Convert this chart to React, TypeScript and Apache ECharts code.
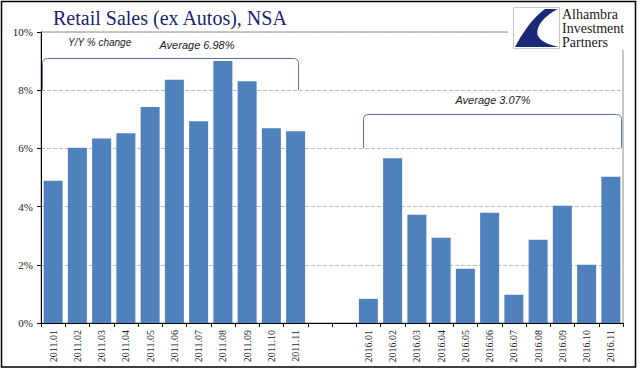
import React, { useEffect, useRef } from "react";
import * as echarts from "echarts";

const categories2011 = ["2011.01", "2011.02", "2011.03", "2011.04", "2011.05", "2011.06", "2011.07", "2011.08", "2011.09", "2011.10", "2011.11"];
const gapCategories = ["", ""];
const categories2016 = ["2016.01", "2016.02", "2016.03", "2016.04", "2016.05", "2016.06", "2016.07", "2016.08", "2016.09", "2016.10", "2016.11"];
const values2011 = [4.89, 6.02, 6.34, 6.52, 7.42, 8.36, 6.93, 9.0, 8.31, 6.69, 6.59];
const values2016 = [0.83, 5.66, 3.72, 2.93, 1.86, 3.79, 0.97, 2.86, 4.03, 2.0, 5.03];
const yMin = 0;
const yMax = 10;
const yInterval = 2;
const titleText = "Retail Sales (ex Autos), NSA";
const subtitleText = "Y/Y % change";
const averageLabels = ["Average 6.98%", "Average 3.07%"];
// bracket spans in category units (fractional index) and value levels
const bracketStart = [-0.46, 12.78];
const bracketEnd = [10.1, 23.42];
const bracketBase = [8, 6];
const bracketTop = [9.1, 7.17];
const logoLines = ["Alhambra", "Investment", "Partners"];

const Bracket = echarts.graphic.extendShape({
  shape: { x1: 0, x2: 0, yTop: 0, yBot: 0, r: 5 },
  buildPath(ctx: any, s: any) {
    ctx.moveTo(s.x1, s.yBot);
    ctx.lineTo(s.x1, s.yTop + s.r);
    ctx.quadraticCurveTo(s.x1, s.yTop, s.x1 + s.r, s.yTop);
    ctx.lineTo(s.x2 - s.r, s.yTop);
    ctx.quadraticCurveTo(s.x2, s.yTop, s.x2, s.yTop + s.r);
    ctx.lineTo(s.x2, s.yBot);
  },
});
echarts.graphic.registerShape("bracket", Bracket);
echarts.graphic.registerShape(
  "logo",
  echarts.graphic.extendPath(
    "M 32 2 L 45 2 C 31 9 22 20 25 29 C 28 35 37 38 46 40 L 2 40 C 9 27 19 11 32 2 Z",
    {}
  )
);

export default function App() {
  const ref = useRef<HTMLDivElement>(null);
  useEffect(() => {
    if (!ref.current) return;
    const chart = echarts.init(ref.current, null, { renderer: "svg" });
    const categories = [...categories2011, ...gapCategories, ...categories2016];
    const data = [...values2011, ...gapCategories.map(() => null), ...values2016];
    chart.setOption({
      animation: false,
      grid: {
        left: 41,
        right: 18,
        top: 32,
        bottom: 52,
        show: true,
        borderColor: "#8c8c8c",
        borderWidth: 1,
      },
      xAxis: {
        type: "category",
        data: categories,
        boundaryGap: true,
        axisLine: { lineStyle: { color: "#000", width: 1 } },
        axisTick: { show: true, interval: 0, length: 4, lineStyle: { color: "#000" } },
        axisLabel: {
          interval: 0,
          rotate: 90,
          fontFamily: "Liberation Serif",
          fontSize: 10,
          color: "#222",
          margin: 7,
        },
      },
      yAxis: {
        type: "value",
        min: yMin,
        max: yMax,
        interval: yInterval,
        axisLine: { show: true, lineStyle: { color: "#000" } },
        axisTick: { show: true, length: 4, lineStyle: { color: "#000" } },
        axisLabel: {
          formatter: "{value}%",
          fontFamily: "Liberation Serif",
          fontSize: 11,
          color: "#222",
          margin: 8,
        },
        splitLine: { lineStyle: { color: "#bdbdbd", type: "dashed", width: 1 } },
      },
      series: [
        {
          type: "bar",
          data,
          barWidth: 19,
          itemStyle: { color: "#4F81BD" },
          silent: true,
        },
      ],
    });

    const px0 = chart.convertToPixel({ xAxisIndex: 0 }, 0) as number;
    const px1 = chart.convertToPixel({ xAxisIndex: 0 }, 1) as number;
    const band = px1 - px0;
    const xAt = (f: number) => px0 + f * band;
    const yAt = (v: number) => chart.convertToPixel({ yAxisIndex: 0 }, v) as number;

    const brackets = bracketStart.map((s, i) => ({
      type: "bracket",
      shape: {
        x1: Math.round(xAt(s)) + 0.5,
        x2: Math.round(xAt(bracketEnd[i])) + 0.5,
        yTop: Math.round(yAt(bracketTop[i])) + 0.5,
        yBot: Math.round(yAt(bracketBase[i])),
        r: 5,
      },
      style: { fill: "none", stroke: "#5473a0", lineWidth: 1 },
      z: 10,
    }));

    chart.setOption({
      graphic: [
        {
          type: "rect",
          shape: { x: 1.5, y: 1.5, width: 634, height: 365.5 },
          style: { fill: "none", stroke: "#000", lineWidth: 1.5 },
          z: 20,
        },
        {
          type: "text",
          x: 53,
          y: 18,
          style: {
            text: titleText,
            font: "20px 'Liberation Serif'",
            fill: "#1c1f6e",
            textAlign: "left",
            textVerticalAlign: "middle",
          },
          z: 20,
        },
        {
          type: "text",
          x: 68,
          y: 42,
          style: {
            text: subtitleText,
            font: "italic 10px 'Liberation Sans'",
            fill: "#222",
            textAlign: "left",
            textVerticalAlign: "middle",
          },
          z: 20,
        },
        {
          type: "text",
          x: 197,
          y: 45,
          style: {
            text: averageLabels[0],
            font: "italic 11px 'Liberation Sans'",
            fill: "#222",
            textAlign: "center",
            textVerticalAlign: "middle",
          },
          z: 20,
        },
        {
          type: "text",
          x: 493,
          y: 100,
          style: {
            text: averageLabels[1],
            font: "italic 11px 'Liberation Sans'",
            fill: "#222",
            textAlign: "center",
            textVerticalAlign: "middle",
          },
          z: 20,
        },
        ...brackets,
        {
          type: "rect",
          shape: { x: 508, y: 4, width: 125, height: 46 },
          style: { fill: "#fff" },
          z: 15,
        },
        {
          type: "rect",
          shape: { x: 513.5, y: 7.5, width: 46, height: 41 },
          style: { fill: "#fff", stroke: "#c8c8c8", lineWidth: 1 },
          z: 16,
        },
        {
          type: "logo",
          x: 513,
          y: 7,
          style: { fill: "#1b2a78" },
          z: 17,
        },
        ...logoLines.map((t, i) => ({
          type: "text",
          x: 562,
          y: 14 + i * 14,
          style: {
            text: t,
            font: "14px 'Liberation Serif'",
            fill: "#1a1a1a",
            textAlign: "left",
            textVerticalAlign: "middle",
          },
          z: 17,
        })),
      ],
    });

    return () => chart.dispose();
  }, []);
  return (
    <div
      ref={ref}
      style={{ position: "fixed", left: 0, top: 0, width: 641, height: 375, background: "#fff" }}
    />
  );
}
